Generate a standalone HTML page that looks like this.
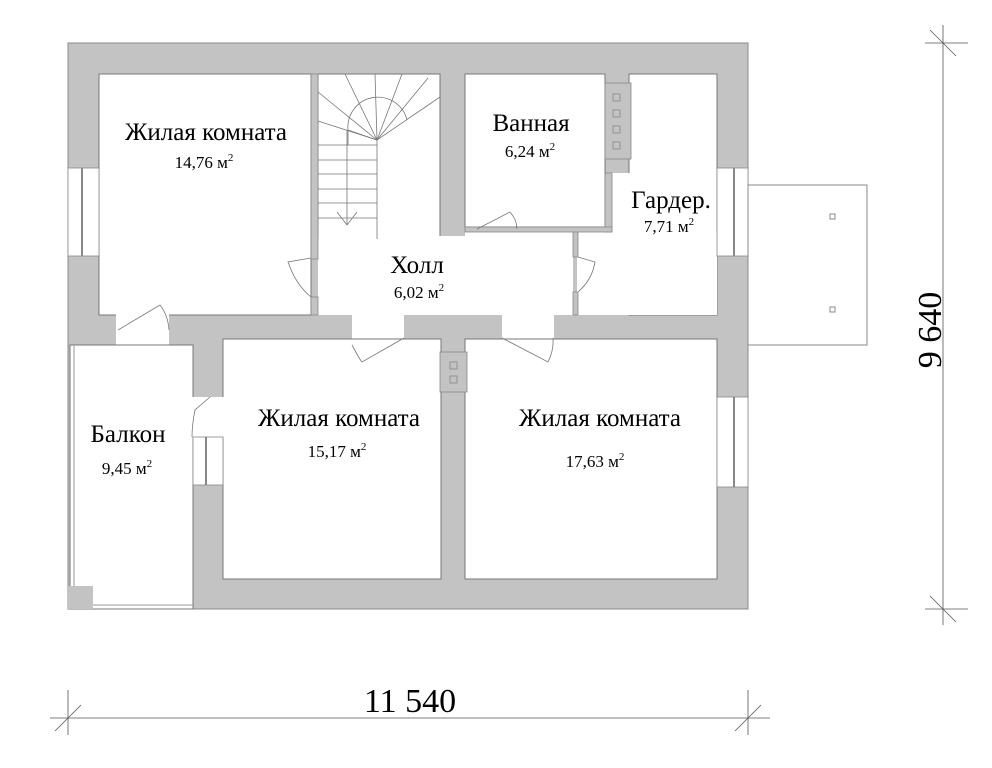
<!DOCTYPE html>
<html><head><meta charset="utf-8"><style>
html,body{margin:0;padding:0;background:#fff;width:992px;height:768px;overflow:hidden}
svg{display:block}
text{font-family:"Liberation Serif",serif;fill:#000}
</style></head><body>
<svg width="992" height="768" viewBox="0 0 992 768" xmlns="http://www.w3.org/2000/svg">
<rect x="68" y="43" width="680" height="566" fill="#c3c3c3" stroke="#888" stroke-width="1"/>
<g fill="#fff" stroke="#777" stroke-width="1">
<rect x="99" y="74" width="212" height="241"/>
<rect x="318" y="74" width="122" height="165"/>
<rect x="465" y="74" width="140" height="153"/>
<rect x="629" y="74" width="88" height="241"/>
<rect x="577" y="232" width="140" height="83" stroke="none"/>
<rect x="612" y="173" width="30" height="60" stroke="none"/>
<rect x="318" y="236" width="255" height="79" stroke="none"/>
<rect x="465" y="228" width="108" height="10" stroke="none"/>
<rect x="352" y="314" width="52" height="25" stroke="none"/>
<rect x="502" y="314" width="52" height="25" stroke="none"/>
<rect x="116" y="314" width="53" height="32" stroke="none"/>
<rect x="223" y="339" width="218" height="240"/>
<rect x="465" y="339" width="252" height="240"/>
<rect x="70" y="345" width="123" height="264"/>
<rect x="192" y="397" width="32" height="40" stroke="none"/>
</g>
<rect x="68" y="586" width="25" height="23" fill="#c3c3c3"/>
<line x1="74" y1="345" x2="74" y2="586" stroke="#999"/>
<line x1="93" y1="605" x2="193" y2="605" stroke="#999"/>
<g fill="#c3c3c3" stroke="#888" stroke-width="0.8">
<rect x="311" y="74" width="7" height="185"/>
<rect x="311" y="297" width="7" height="18"/>
<rect x="605" y="173" width="7" height="59"/>
<rect x="465" y="227" width="147" height="5"/>
<rect x="573" y="232" width="5" height="25"/>
<rect x="573" y="292" width="5" height="23"/>
<rect x="605" y="83" width="26" height="76"/>
<rect x="440" y="352" width="27" height="40"/>
</g>
<g fill="none" stroke="#888" stroke-width="0.8">
<rect x="613" y="94" width="7" height="7"/><rect x="613" y="110" width="7" height="7"/>
<rect x="613" y="126" width="7" height="7"/><rect x="613" y="142" width="7" height="7"/>
<rect x="450" y="362" width="7" height="7"/><rect x="450" y="376" width="7" height="7"/>
</g>
<g fill="#fff" stroke="#888" stroke-width="0.8">
<rect x="68" y="168" width="31" height="88"/>
<rect x="717" y="168" width="31" height="88"/>
<rect x="717" y="397" width="31" height="90"/>
<rect x="193" y="437" width="30" height="48"/>
</g>
<g stroke="#888" stroke-width="2">
<line x1="82" y1="168" x2="82" y2="256"/>
<line x1="734" y1="168" x2="734" y2="256"/>
<line x1="734" y1="397" x2="734" y2="487"/>
<line x1="206" y1="437" x2="206" y2="485"/>
</g>
<rect x="748" y="185" width="119" height="160" fill="#fff" stroke="#888"/>
<rect x="830" y="214" width="5" height="5" fill="none" stroke="#888"/>
<rect x="830" y="307" width="5" height="5" fill="none" stroke="#888"/>
<g stroke="#777" stroke-width="0.8" fill="none">
<line x1="318" y1="145" x2="377" y2="145"/><line x1="318" y1="160" x2="377" y2="160"/>
<line x1="318" y1="174" x2="377" y2="174"/><line x1="318" y1="189" x2="377" y2="189"/>
<line x1="318" y1="203" x2="377" y2="203"/><line x1="318" y1="218" x2="377" y2="218"/>
<line x1="377" y1="140" x2="377" y2="239"/>
<path d="M348 145 L348 130 A30 30 0 0 1 407 120"/>
<line x1="377" y1="140" x2="318" y2="92"/><line x1="377" y1="140" x2="318" y2="121"/>
<line x1="377" y1="140" x2="345" y2="74"/><line x1="377" y1="140" x2="375" y2="74"/>
<line x1="377" y1="140" x2="402" y2="74"/><line x1="377" y1="140" x2="428" y2="78"/>
<line x1="377" y1="140" x2="440" y2="97"/><line x1="377" y1="140" x2="348" y2="130"/>
<line x1="347" y1="130" x2="347" y2="225"/>
<polyline points="337,212 347,225 357,212"/>
</g>
<g stroke="#777" stroke-width="0.8" fill="none">
<path d="M118 330 L160 305 Q168 315 169 330"/>
<path d="M311 258 L288 262 Q296 285 311 297"/>
<path d="M352 345 Q360 360 362 362 L404 338"/>
<path d="M502 338 L548 362 Q554 350 553 338"/>
<path d="M477 229 L510 212 Q517 220 517 229"/>
<path d="M578 257 L595 262 Q592 280 578 292"/>
<path d="M210 397 L195 410 Q192 425 192 437"/>
</g>
<g text-anchor="middle">
<text x="206" y="140" font-size="25">Жилая комната</text>
<text x="204" y="168" font-size="17">14,76 м<tspan font-size="11" dy="-7">2</tspan></text>
<text x="531" y="131" font-size="25">Ванная</text>
<text x="530" y="157" font-size="17">6,24 м<tspan font-size="11" dy="-7">2</tspan></text>
<text x="671" y="208" font-size="25">Гардер.</text>
<text x="669" y="232" font-size="17">7,71 м<tspan font-size="11" dy="-7">2</tspan></text>
<text x="417" y="273" font-size="25">Холл</text>
<text x="419" y="298" font-size="17">6,02 м<tspan font-size="11" dy="-7">2</tspan></text>
<text x="339" y="426" font-size="25">Жилая комната</text>
<text x="337" y="457" font-size="17">15,17 м<tspan font-size="11" dy="-7">2</tspan></text>
<text x="600" y="426" font-size="25">Жилая комната</text>
<text x="595" y="467" font-size="17">17,63 м<tspan font-size="11" dy="-7">2</tspan></text>
<text x="128" y="442" font-size="25">Балкон</text>
<text x="127" y="474" font-size="17">9,45 м<tspan font-size="11" dy="-7">2</tspan></text>
</g>
<g stroke="#555" stroke-width="0.8">
<line x1="943" y1="25" x2="943" y2="625"/>
<line x1="925" y1="43" x2="968" y2="43"/><line x1="930" y1="30" x2="956" y2="56"/>
<line x1="925" y1="609" x2="968" y2="609"/><line x1="930" y1="596" x2="956" y2="622"/>
<line x1="50" y1="718" x2="770" y2="718"/>
<line x1="68" y1="690" x2="68" y2="735"/><line x1="55" y1="731" x2="81" y2="705"/>
<line x1="748" y1="690" x2="748" y2="735"/><line x1="735" y1="731" x2="761" y2="705"/>
</g>
<text x="410" y="712" font-size="34" text-anchor="middle">11 540</text>
<text transform="translate(941,330) rotate(-90)" font-size="34" text-anchor="middle">9 640</text>
</svg>
</body></html>
